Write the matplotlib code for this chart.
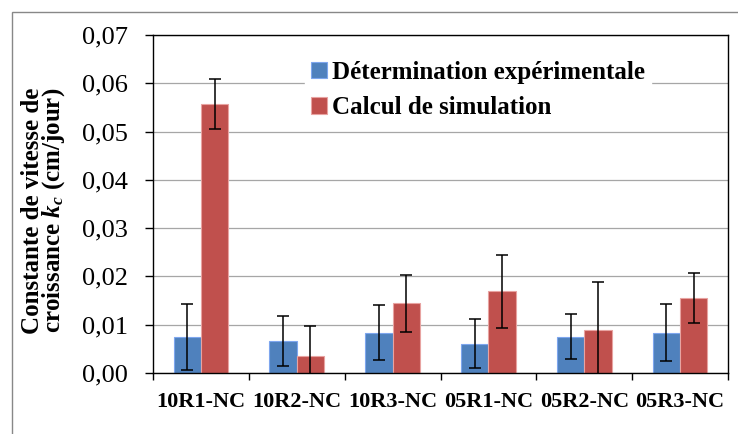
import matplotlib.pyplot as plt
from matplotlib.patches import Rectangle
import numpy as np

categories = ['10R1-NC', '10R2-NC', '10R3-NC', '05R1-NC', '05R2-NC', '05R3-NC']
experimental = [0.0075, 0.0066, 0.0083, 0.0061, 0.0075, 0.0083]
experimental_err = [0.0068, 0.0052, 0.0057, 0.0050, 0.0047, 0.0059]
simulation = [0.0557, 0.0036, 0.0144, 0.0169, 0.0089, 0.0155]
simulation_err = [0.0051, 0.0061, 0.0059, 0.0076, 0.0100, 0.0052]
yticks = [0.0, 0.01, 0.02, 0.03, 0.04, 0.05, 0.06, 0.07]

plt.rcParams['font.family'] = ['Liberation Serif', 'DejaVu Serif']
plt.rcParams['mathtext.fontset'] = 'custom'
plt.rcParams['mathtext.it'] = 'Liberation Serif:bold:italic'
plt.rcParams['mathtext.rm'] = 'Liberation Serif:bold'

fig = plt.figure(figsize=(7.38, 4.34), dpi=100)
ax = fig.add_axes([153 / 738, 1 - 373 / 434, (728 - 153) / 738, (373 - 35) / 434])

x = np.arange(len(categories))
w = 1 / 3.5
err_kw = dict(ecolor='black', elinewidth=1.1, capsize=4.5, capthick=1.1)
ax.bar(x - w / 2, experimental, w, yerr=experimental_err, color='#4f81bd',
       edgecolor='#7ea6ee', linewidth=0.8, error_kw=err_kw,
       label='Détermination expérimentale', zorder=2)
ax.bar(x + w / 2, simulation, w, yerr=simulation_err, color='#c0504d',
       edgecolor='#e8a3a1', linewidth=0.8, error_kw=err_kw,
       label='Calcul de simulation', zorder=2)

ax.set_xlim(-0.5, len(categories) - 0.5)
ax.set_ylim(0, 0.07)
ax.set_yticks(yticks)
ax.set_yticklabels([f'{v:.2f}'.replace('.', ',') for v in yticks], fontsize=19)
ax.set_xticks(x)
ax.set_xticklabels(categories, fontsize=16, fontweight='bold')
ax.set_xticks(np.arange(len(categories) + 1) - 0.5, minor=True)
ax.tick_params(axis='x', which='major', length=0, pad=14)
ax.tick_params(axis='x', which='minor', length=5, width=1, direction='out')
ax.tick_params(axis='y', length=6, width=1, direction='out', pad=12)
ax.grid(axis='y', color='#a6a6a6', linewidth=0.9, zorder=0)
ax.set_axisbelow(True)
for s in ax.spines.values():
    s.set_color('black')
    s.set_linewidth(1.0)

ax.set_ylabel('Constante de vitesse de\ncroissance $k_c$ (cm/jour)',
              fontsize=18, fontweight='bold', linespacing=0.78)
ax.yaxis.set_label_coords(-0.15, 0.48)

leg = ax.legend(loc='upper left', bbox_to_anchor=(292 / 738, 1 - 42 / 434),
                bbox_transform=fig.transFigure,
                prop={'weight': 'bold', 'size': 18},
                handlelength=0.65, handleheight=0.65, handletextpad=0.2,
                labelspacing=0.5, borderpad=0.25, frameon=True, fancybox=False)
leg.get_frame().set_facecolor('white')
leg.get_frame().set_edgecolor('white')
leg.get_frame().set_alpha(1)

fig.patches.append(Rectangle((12 / 738, -0.05), 1.1, (434 - 12) / 434 + 0.05,
                             transform=fig.transFigure, fill=False,
                             edgecolor='#888888', linewidth=1.0))

fig.savefig('out.png', dpi=100)
